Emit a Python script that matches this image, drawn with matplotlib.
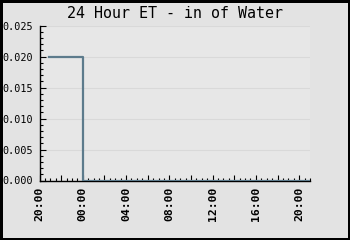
import matplotlib
matplotlib.use("Agg")
import matplotlib.pyplot as plt
import matplotlib.dates as mdates
import matplotlib.ticker as mticker
import pandas as pd

# ---- data ----
times = pd.to_datetime(["2024-01-01 20:55", "2024-01-02 00:00", "2024-01-02 21:00"])
et_values = [0.020, 0.0, 0.0]
x_start = pd.Timestamp("2024-01-01 20:00")
x_end = pd.Timestamp("2024-01-02 21:00")
y_ticks = [0.000, 0.005, 0.010, 0.015, 0.020, 0.025]
title_text = "24 Hour ET - in of Water"

W, H = 350, 240
fig = plt.figure(figsize=(W / 100, H / 100), dpi=100)
fig.patch.set_facecolor("#e3e3e3")
fig.patch.set_edgecolor("black")
fig.patch.set_linewidth(2.5)

left, right, bottom, top = 39.5, 310, 180.5, 25.7
ax = fig.add_axes([left / W, 1 - bottom / H, (right - left) / W, (bottom - top) / H])
ax.set_facecolor("#e7e7e7")

ax.step(times, et_values, where="post", color="#5d7b8c", linewidth=1.6, zorder=3)

ax.set_xlim(x_start, x_end)
ax.set_ylim(0, 0.025)

for s in ["top", "right"]:
    ax.spines[s].set_visible(False)
for s in ["left", "bottom"]:
    ax.spines[s].set_color("black")
    ax.spines[s].set_linewidth(1.0)

ax.set_yticks(y_ticks)
ax.yaxis.set_major_formatter(mticker.FormatStrFormatter("%.3f"))
ax.yaxis.set_minor_locator(mticker.MultipleLocator(0.001))
ax.yaxis.grid(True, which="major", color="#d9d9d9", linewidth=0.8)
ax.set_axisbelow(True)

ax.xaxis.set_major_locator(mdates.HourLocator(byhour=range(0, 24, 2)))
ax.xaxis.set_minor_locator(mdates.MinuteLocator(byminute=[0, 30]))


def fmt(x, pos):
    d = mdates.num2date(x)
    return d.strftime("%H:%M") if d.hour % 4 == 0 else ""


ax.xaxis.set_major_formatter(mticker.FuncFormatter(fmt))

ax.tick_params(axis="both", which="major", direction="in", length=4, width=0.8, color="black")
ax.tick_params(axis="both", which="minor", direction="in", length=2.5, width=0.8, color="black")
ax.tick_params(axis="y", which="major", pad=5)
ax.tick_params(axis="x", which="major", pad=4.5)

for lab in ax.get_yticklabels():
    lab.set_family(["DejaVu Sans Mono"])
    lab.set_fontsize(7.3)
for lab in ax.get_xticklabels():
    lab.set_family(["DejaVu Sans Mono"])
    lab.set_fontsize(8.2)
    lab.set_fontweight("bold")
    lab.set_rotation(90)

fig.text(0.5, 1 - 14 / H, title_text, ha="center", va="center",
         family=["DejaVu Sans Mono"], fontsize=10.8)

fig.savefig("out.png", dpi=100, facecolor=fig.get_facecolor(), edgecolor=fig.get_edgecolor())
